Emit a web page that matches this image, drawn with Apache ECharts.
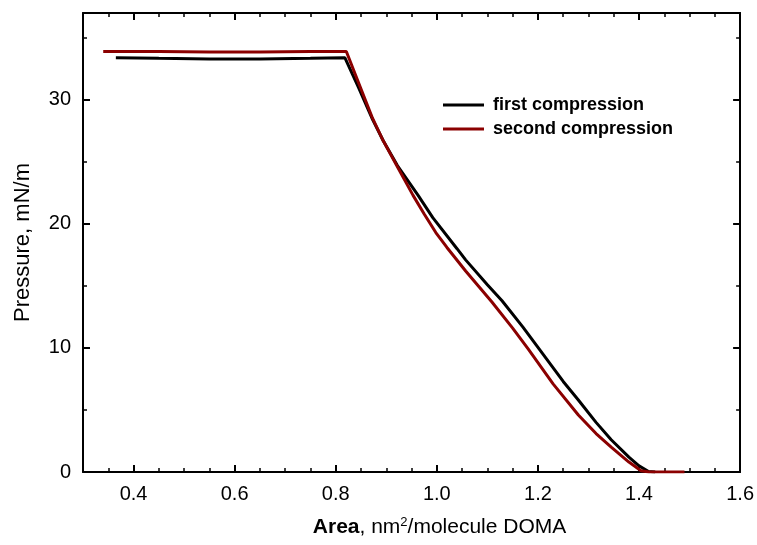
<!DOCTYPE html>
<html lang="en">
<head>
  <meta charset="utf-8">
  <title>Pressure - Area isotherm</title>
  <script src="https://cdn.jsdelivr.net/npm/echarts@6/dist/echarts.min.js"></script>
  <style>
    * { margin: 0; padding: 0; }
    html, body, #chart { width: 757px; height: 545px; background: #fff; }
  </style>
</head>
<body>
  <div id="chart"></div>
  <script>
    // first compression (black)
    const firstArea = [0.365, 0.45, 0.55, 0.65, 0.75, 0.818, 0.845, 0.873, 0.894, 0.922, 0.963, 0.992, 1.040, 1.057, 1.10, 1.129, 1.17, 1.21, 1.25, 1.28, 1.315, 1.345, 1.38, 1.40, 1.418, 1.432];
    const firstPressure = [33.4, 33.35, 33.3, 33.3, 33.35, 33.4, 31.0, 28.4, 26.7, 24.7, 22.3, 20.5, 18.0, 17.1, 15.1, 13.8, 11.7, 9.5, 7.3, 5.8, 4.0, 2.6, 1.2, 0.5, 0.05, 0];
    // second compression (dark red)
    const secondArea = [0.34, 0.45, 0.55, 0.65, 0.75, 0.821, 0.845, 0.873, 0.894, 0.922, 0.953, 0.975, 0.998, 1.02, 1.057, 1.109, 1.15, 1.181, 1.23, 1.28, 1.315, 1.345, 1.38, 1.404, 1.42, 1.46, 1.49];
    const secondPressure = [33.9, 33.9, 33.85, 33.85, 33.9, 33.9, 31.4, 28.5, 26.7, 24.6, 22.3, 20.8, 19.3, 18.1, 16.2, 13.7, 11.6, 9.9, 7.1, 4.6, 3.1, 2.0, 0.8, 0.1, 0, 0, 0];

    const xMajor = [0.4, 0.6, 0.8, 1.0, 1.2, 1.4, 1.6];
    const yMajor = [0, 10, 20, 30];
    const seriesNames = ['first compression', 'second compression'];

    const zip = (a, b) => a.map((v, i) => [v, b[i]]);
    const font = 'Liberation Sans, Arial, sans-serif';

    const chart = echarts.init(document.getElementById('chart'));

    // x axis helper: major ticks + labels (bottom) or plain minor ticks
    function xAx(position, major, withLabels) {
      return {
        type: 'value', position: position, min: 0.3, max: 1.6,
        interval: 0.05,
        axisLine: { show: major, onZero: false, lineStyle: { color: '#000', width: 2 } },
        axisTick: major
          ? { show: true, inside: true, length: 7, customValues: xMajor, lineStyle: { color: '#000', width: 2 } }
          : { show: true, inside: true, length: 4, lineStyle: { color: '#000', width: 1.5 } },
        axisLabel: withLabels
          ? { show: true, customValues: xMajor, margin: 12, color: '#000', fontSize: 20, fontFamily: font,
              formatter: v => v.toFixed(1) }
          : { show: false },
        splitLine: { show: false }
      };
    }
    function yAx(position, major, withLabels) {
      return {
        type: 'value', position: position, min: 0, max: 37,
        interval: 5,
        axisLine: { show: major, onZero: false, lineStyle: { color: '#000', width: 2 } },
        axisTick: major
          ? { show: true, inside: true, length: 7, customValues: yMajor, lineStyle: { color: '#000', width: 2 } }
          : { show: true, inside: true, length: 4, lineStyle: { color: '#000', width: 1.5 } },
        axisLabel: withLabels
          ? { show: true, customValues: yMajor, margin: 12, color: '#000', fontSize: 20, fontFamily: font }
          : { show: false },
        splitLine: { show: false }
      };
    }

    const xMain = xAx('bottom', true, true);
    xMain.name = '{b|Area}, nm{sup|2}/molecule DOMA';
    xMain.nameLocation = 'middle';
    xMain.nameGap = 44;
    xMain.nameTextStyle = {
      color: '#000', fontSize: 21, fontFamily: font, padding: [0, 0, 0, 56],
      rich: {
        b: { fontWeight: 'bold', fontSize: 21, fontFamily: font, color: '#000' },
        sup: { fontSize: 13, fontFamily: font, color: '#000', padding: [0, 0, 10, 0] }
      }
    };
    const yMain = yAx('left', true, true);
    yMain.name = 'Pressure, mN/m';
    yMain.nameLocation = 'middle';
    yMain.nameGap = 49;
    yMain.nameTextStyle = { color: '#000', fontSize: 22, fontFamily: font };

    const option = {
      backgroundColor: '#fff',
      animation: false,
      grid: { left: 83, right: 16, top: 13, bottom: 73, containLabel: false },
      legend: {
        data: seriesNames,
        orient: 'vertical',
        left: 438, top: 91,
        icon: 'rect', itemWidth: 41, itemHeight: 3, itemGap: 6,
        textStyle: { color: '#000', fontSize: 18, fontWeight: 'bold', fontFamily: font, padding: [0, 0, 0, 4] }
      },
      xAxis: [xMain, xAx('bottom', false, false), xAx('top', true, false), xAx('top', false, false)],
      yAxis: [yMain, yAx('left', false, false), yAx('right', true, false), yAx('right', false, false)],
      series: [
        {
          name: seriesNames[0], type: 'line', xAxisIndex: 0, yAxisIndex: 0,
          data: zip(firstArea, firstPressure), showSymbol: false, symbol: 'none',
          lineStyle: { color: '#000', width: 3 }, itemStyle: { color: '#000' }
        },
        {
          name: seriesNames[1], type: 'line', xAxisIndex: 0, yAxisIndex: 0,
          data: zip(secondArea, secondPressure), showSymbol: false, symbol: 'none',
          lineStyle: { color: '#8b0000', width: 3 }, itemStyle: { color: '#8b0000' }
        }
      ]
    };

    chart.setOption(option);
  </script>
</body>
</html>
